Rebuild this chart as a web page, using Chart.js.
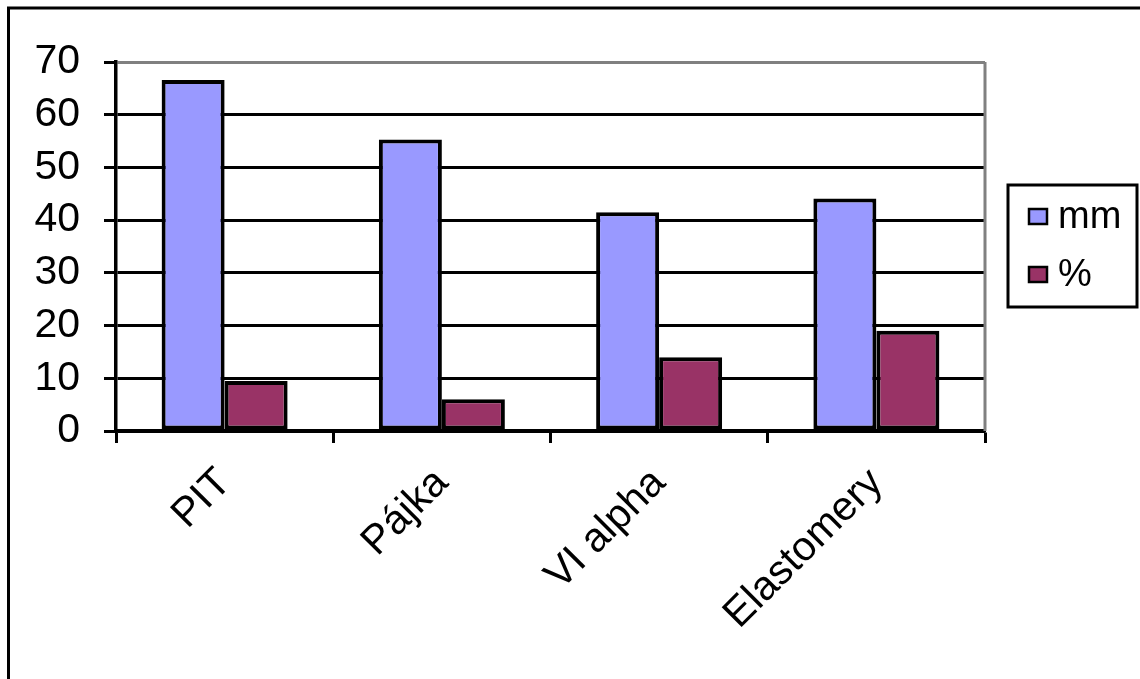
<!DOCTYPE html>
<html>
<head>
<meta charset="utf-8">
<script src="https://cdn.jsdelivr.net/npm/chart.js@4/dist/chart.umd.min.js"></script>
<style>
  html, body { margin: 0; padding: 0; background: #fff; }
  #wrap { width: 1140px; height: 679px; position: relative; }
</style>
</head>
<body>
<div id="wrap"><canvas id="chart"></canvas></div>
<script>
// hodnoty
const categories = ['PIT', 'Pájka', 'VI alpha', 'Elastomery'];
const mmValues = [66.6, 55.3, 41.5, 44.1];
const pctValues = [9.5, 6.0, 14.0, 19.0];
const seriesNames = ['mm', '%'];
const yTicks = [0, 10, 20, 30, 40, 50, 60, 70];

const FONT = '"Liberation Sans", Arial, sans-serif';

// rámeček kolem grafu, šedé okraje plochy a legenda
const framePlugin = {
  id: 'frame',
  beforeDatasetsDraw(chart) {
    const ctx = chart.ctx;
    const a = chart.chartArea;
    ctx.save();
    ctx.strokeStyle = '#808080';
    ctx.lineWidth = 3;
    ctx.beginPath();
    ctx.moveTo(a.right, a.top);
    ctx.lineTo(a.right, a.bottom);
    ctx.stroke();
    ctx.restore();
  },
  afterDraw(chart) {
    const ctx = chart.ctx;
    ctx.save();
    // vnější rámeček
    ctx.strokeStyle = '#000';
    ctx.lineWidth = 3;
    ctx.beginPath();
    ctx.moveTo(8.5, chart.height);
    ctx.lineTo(8.5, 8);
    ctx.lineTo(chart.width, 8);
    ctx.stroke();

    // legenda
    const lx = 1008, ly = 185, lw = 129, lh = 122;
    ctx.fillStyle = '#fff';
    ctx.fillRect(lx, ly, lw, lh);
    ctx.lineWidth = 3;
    ctx.strokeRect(lx, ly, lw, lh);
    ctx.font = '38px ' + FONT;
    ctx.textBaseline = 'middle';
    chart.data.datasets.forEach((ds, i) => {
      const cy = ly + 32 + i * 58;
      ctx.fillStyle = ds.backgroundColor;
      ctx.fillRect(lx + 21, cy - 8, 18, 15);
      ctx.lineWidth = 2.5;
      ctx.strokeStyle = '#000';
      ctx.strokeRect(lx + 21, cy - 8, 18, 15);
      ctx.fillStyle = '#000';
      ctx.fillText(ds.label, lx + 50, cy + 1);
    });
    ctx.restore();
  }
};

const barStyle = {
  borderColor: '#000',
  borderWidth: 4,
  borderSkipped: false,
  barPercentage: 1,
  categoryPercentage: 0.58
};

new Chart(document.getElementById('chart'), {
  type: 'bar',
  data: {
    labels: categories,
    datasets: [
      Object.assign({ label: seriesNames[0], data: mmValues, backgroundColor: '#9999FF' }, barStyle),
      Object.assign({ label: seriesNames[1], data: pctValues, backgroundColor: '#993366' }, barStyle)
    ]
  },
  options: {
    responsive: true,
    maintainAspectRatio: false,
    animation: false,
    devicePixelRatio: 1,
    layout: { padding: { left: 0, top: 62, right: 155, bottom: 0 } },
    plugins: {
      legend: { display: false },
      tooltip: { enabled: false }
    },
    scales: {
      x: {
        offset: true,
        grid: {
          offset: true,
          drawOnChartArea: false,
          drawTicks: true,
          tickLength: 12,
          tickColor: '#000',
          tickWidth: 3
        },
        border: { color: '#000', width: 3.5 },
        ticks: {
          color: '#000',
          font: { family: FONT, size: 41 },
          maxRotation: 45,
          minRotation: 45,
          padding: 16
        },
        afterFit(scale) { scale.height = 679 - 431; }
      },
      y: {
        min: 0,
        max: 70,
        afterBuildTicks(scale) { scale.ticks = yTicks.map(v => ({ value: v })); },
        grid: {
          color: ctx => (ctx.tick && ctx.tick.value === 70 ? '#808080' : '#000'),
          lineWidth: 3,
          tickLength: 12,
          tickColor: '#000',
          tickWidth: 3
        },
        border: { color: '#000', width: 3.5 },
        ticks: {
          color: '#000',
          font: { family: FONT, size: 41 },
          padding: 24
        },
        afterFit(scale) { scale.width = 116; }
      }
    }
  },
  plugins: [framePlugin]
});
</script>
</body>
</html>
